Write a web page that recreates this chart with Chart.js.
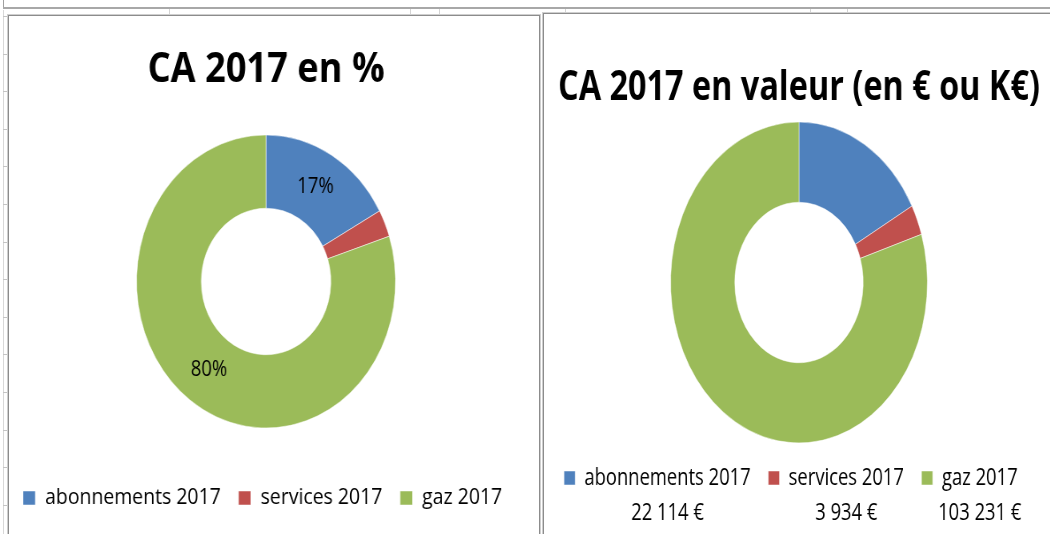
<!DOCTYPE html>
<html lang="fr">
<head>
    <meta charset="UTF-8">
    <title>CA 2017</title>
    <script src="https://cdn.jsdelivr.net/npm/chart.js"></script>
    <style>
        body {
            margin: 0;
            width: 1050px;
            height: 534px;
            overflow: hidden;
            background: #fff;
            position: relative;
            font-family: "Open Sans", sans-serif;
        }
        .line { position: absolute; background: #c4c4c4; }
        .panel {
            position: absolute;
            background: #fff;
            border: 1px solid #8c8c8c;
            box-shadow: 0 0 0 1px #cfcfcf;
        }
        .wrap { position: absolute; transform-origin: 0 0; }
        canvas { display: block; }
    </style>
</head>
<body>
    <!-- bits of the spreadsheet behind the charts -->
    <div class="line" style="left:3px;top:0;width:1px;height:9px;background:#a0a0a0"></div>
    <div class="line" style="left:3px;top:7px;width:1047px;height:2px;background:#a8a8a8"></div>
    <div class="line" style="left:3px;top:10px;width:1px;height:524px;background:#d8d8d8"></div>
    <div id="ticks"></div>

    <div class="panel" style="left:8px;top:15px;width:530px;height:530px"></div>
    <div class="panel" style="left:543px;top:13px;width:520px;height:530px"></div>

    <div class="wrap" style="left:-8px;top:15px;transform:scaleX(0.884)">
        <canvas id="pctChart" width="620" height="519"></canvas>
    </div>
    <div class="wrap" style="left:535px;top:15px;transform:scaleX(0.8)">
        <canvas id="valChart" width="660" height="519"></canvas>
    </div>

    <script>
        // data
        const categories = ['abonnements 2017', 'services 2017', 'gaz 2017'];
        const caPercent = [17, 3, 80];              // left chart, in %
        const caValues = [22114, 3934, 103231];     // right chart, in €
        const pctLabels = ['17%', '', '80%'];       // Excel only shows two of them
        const colors = ['#4F81BD', '#C0504D', '#9BBB59'];

        // little grid ticks of the sheet
        const ticks = document.getElementById('ticks');
        for (let y = 16; y < 534; y += 37.6) {
            const d = document.createElement('div');
            d.className = 'line';
            d.style.cssText = `left:3px;top:${Math.round(y)}px;width:5px;height:1px`;
            ticks.appendChild(d);
        }
        [169, 410, 439, 565, 810, 847].forEach(x => {
            const d = document.createElement('div');
            d.className = 'line';
            d.style.cssText = `left:${x}px;top:9px;width:1px;height:5px;background:#d4d4d4`;
            ticks.appendChild(d);
        });

        Chart.defaults.font.family = "'Open Sans', sans-serif";
        Chart.defaults.color = '#000';

        function euro(v) {
            return String(v).replace(/\B(?=(\d{3})+(?!\d))/g, ' ') + ' €';
        }

        // text inside the slices
        const sliceLabels = {
            id: 'sliceLabels',
            afterDatasetsDraw(chart, args, opts) {
                const ctx = chart.ctx;
                ctx.save();
                ctx.font = opts.font;
                ctx.fillStyle = '#000';
                ctx.textAlign = 'center';
                ctx.textBaseline = 'middle';
                chart.getDatasetMeta(0).data.forEach((arc, i) => {
                    if (!opts.texts[i]) return;
                    const p = arc.tooltipPosition();
                    ctx.fillText(opts.texts[i], p.x, p.y);
                });
                ctx.restore();
            }
        };

        // second line under the legend with the amounts
        const legendValues = {
            id: 'legendValues',
            afterDraw(chart, args, opts) {
                const ctx = chart.ctx;
                const lab = chart.options.plugins.legend.labels;
                ctx.save();
                ctx.font = opts.font;
                ctx.fillStyle = '#000';
                ctx.textAlign = 'center';
                ctx.textBaseline = 'middle';
                chart.legend.legendHitBoxes.forEach((hb, i) => {
                    const start = hb.left + lab.boxWidth + lab.font.size / 2;
                    const w = hb.width - lab.boxWidth - lab.font.size / 2;
                    ctx.fillText(opts.texts[i], start + w / 2, hb.top + hb.height / 2 + opts.offset);
                });
                ctx.restore();
            }
        };

        new Chart(document.getElementById('pctChart'), {
            type: 'doughnut',
            data: {
                labels: categories,
                datasets: [{
                    data: caPercent,
                    backgroundColor: colors,
                    borderColor: '#fff',
                    borderWidth: 0.5,
                    radius: 146.5,
                    cutout: '50%'
                }]
            },
            options: {
                responsive: false,
                animation: false,
                layout: { padding: { left: 15, right: 15, bottom: 15 } },
                plugins: {
                    title: {
                        display: true,
                        text: 'CA 2017 en %',
                        font: { size: 41, weight: 'bold', lineHeight: 1.05 },
                        color: '#000',
                        padding: { top: 33.5, bottom: 4.45 }
                    },
                    legend: {
                        position: 'bottom',
                        align: 'start',
                        labels: { boxWidth: 14, boxHeight: 14, padding: 20, font: { size: 22 }, color: '#000' }
                    },
                    tooltip: { enabled: false },
                    sliceLabels: { texts: pctLabels, font: "21px 'Open Sans'" }
                }
            },
            plugins: [sliceLabels]
        });

        new Chart(document.getElementById('valChart'), {
            type: 'doughnut',
            data: {
                labels: categories,
                datasets: [{
                    data: caValues,
                    backgroundColor: colors,
                    borderColor: '#fff',
                    borderWidth: 0.5,
                    radius: 160.5,
                    cutout: '50%'
                }]
            },
            options: {
                responsive: false,
                animation: false,
                layout: { padding: { left: 14.25, right: 14.25, bottom: 34.5 } },
                plugins: {
                    title: {
                        display: true,
                        text: 'CA 2017 en valeur (en € ou K€)',
                        font: { size: 40.5, weight: 'bold' },
                        color: '#000',
                        padding: { top: 49, bottom: 7.9 }
                    },
                    legend: {
                        position: 'bottom',
                        align: 'start',
                        labels: { boxWidth: 14, boxHeight: 14, padding: 22, font: { size: 23 }, color: '#000' }
                    },
                    tooltip: { enabled: false },
                    legendValues: { texts: caValues.map(euro), font: "23px 'Open Sans'", offset: 35 }
                }
            },
            plugins: [legendValues]
        });
    </script>
</body>
</html>
